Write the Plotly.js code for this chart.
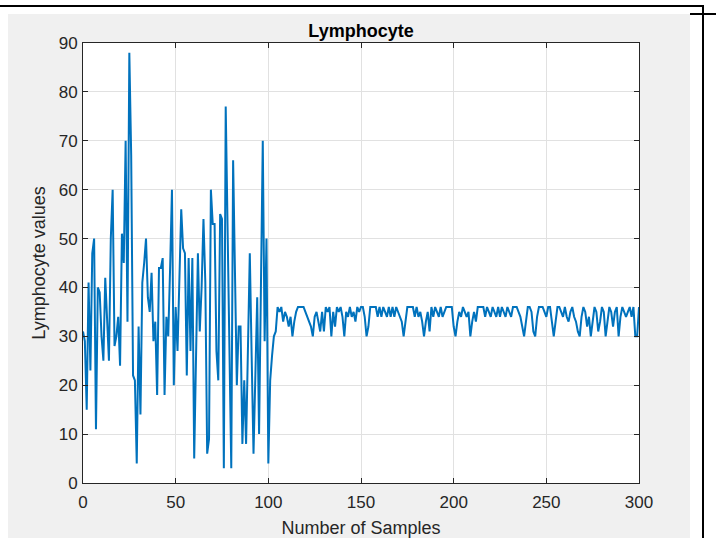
<!DOCTYPE html>
<html>
<head>
<meta charset="utf-8">
<script src="https://cdn.plot.ly/plotly-3.0.1.min.js"></script>
<style>
  html, body { margin: 0; padding: 0; background: #ffffff; width: 716px; height: 538px; overflow: hidden; position: relative; }
  #plot { position: absolute; left: 8px; top: 14px; width: 682px; height: 524px; }
  .ln { position: absolute; background: #000000; }
</style>
</head>
<body>
<div class="ln" style="left:0px; top:5px; width:704px; height:2px;"></div>
<div class="ln" style="left:702px; top:5px; width:2px; height:533px;"></div>
<div class="ln" style="left:690px; top:13px; width:26px; height:2px;"></div>
<div id="plot"></div>
<script>
// Lymphocyte values, samples 0..104 (noisy phase)
const phase1 = [31,29,15,41,23,47,50,11,40,39, 30,25,42,32,25,50,60,28,30,34,
  24,51,45,70,33,88,67,22,21,4, 32,14,41,45,50,38,35,43,29,33,
  18,44,44,46,18,34,30,44,60,20, 36,27,45,56,48,47,22,46,27,46,
  5,25,47,31,40,54,41,6,9,60, 53,53,27,21,55,54,3,77,52,27,
  3,66,42,20,32,32,8,21,8,27, 47,26,6,22,38,10,40,70,29,50,
  4,21,26,30,31];
// samples 105..200
const phase2 = [36,35,36,33,35,34,32,34,30,33, 35,36,36,36,36,35,34,33,32,30,
  34,35,33,31,35,31,36,35,36,30, 35,32,36,35,36,34,30,35,34,36,
  34,35,33,36,35,36,36,34,30,32, 36,36,36,36,34,36,34,36,35,34,
  36,34,36,34,36,35,34,33,30,33, 36,36,36,36,34,36,34,35,33,30,
  33,35,31,36,34,36,35,34,36,34, 35,36,36,36,36,32];
// samples 201..300
const phase3 = [30,33,35,34,36,35,34,35,30,33, 35,33,36,36,36,36,34,36,35,34,
  36,35,34,36,34,36,35,34,36,35, 34,36,36,36,35,34,32,30,33,36,
  36,35,31,30,34,36,36,36,35,34, 36,36,33,30,33,36,36,35,34,36,
  34,33,35,36,34,33,31,30,34,36, 35,32,34,30,33,36,35,31,33,36,
  35,30,33,36,35,32,35,36,30,34, 36,35,34,35,36,34,36,30,30,36];

const values = phase1.concat(phase2, phase3);
const samples = values.map((v, i) => i);

const xTicks = [0, 50, 100, 150, 200, 250, 300];
const yTicks = [0, 10, 20, 30, 40, 50, 60, 70, 80, 90];

const fontFam = 'Liberation Sans, Arial, Helvetica, sans-serif';
const axCol = '#262626';

const trace = {
  x: samples, y: values, type: 'scatter', mode: 'lines',
  line: { color: '#0072BD', width: 2 },
  hoverinfo: 'skip'
};

const layout = {
  width: 682, height: 524,
  margin: { l: 75, r: 51, t: 29, b: 55, pad: 0 },
  paper_bgcolor: '#f0f0f0',
  plot_bgcolor: '#ffffff',
  showlegend: false,
  title: {
    text: '<b>Lymphocyte</b>',
    font: { family: fontFam, size: 18, color: '#000000' },
    x: 0.5, xref: 'paper', xanchor: 'center',
    y: 1 - 17/524, yref: 'container', yanchor: 'middle'
  },
  xaxis: {
    range: [0, 300], tickmode: 'array', tickvals: xTicks, ticktext: xTicks.map(String),
    showgrid: true, gridcolor: '#e1e1e1', gridwidth: 1, zeroline: false,
    showline: true, linecolor: axCol, linewidth: 1, mirror: 'ticks',
    ticks: 'inside', ticklen: 5, tickcolor: axCol, tickwidth: 1,
    ticklabelstandoff: 4,
    tickfont: { family: fontFam, size: 17, color: axCol },
    title: { text: 'Number of Samples', font: { family: fontFam, size: 18, color: axCol }, standoff: 10 },
    automargin: false, fixedrange: true
  },
  yaxis: {
    range: [0, 90], tickmode: 'array', tickvals: yTicks, ticktext: yTicks.map(String),
    showgrid: true, gridcolor: '#e1e1e1', gridwidth: 1, zeroline: false,
    showline: true, linecolor: axCol, linewidth: 1, mirror: 'ticks',
    ticks: 'inside', ticklen: 5, tickcolor: axCol, tickwidth: 1,
    ticklabelstandoff: 1,
    tickfont: { family: fontFam, size: 17, color: axCol },
    title: { text: 'Lymphocyte values', font: { family: fontFam, size: 18, color: axCol }, standoff: 8 },
    automargin: false, fixedrange: true
  }
};

Plotly.newPlot('plot', [trace], layout, { displayModeBar: false, staticPlot: true });
</script>
</body>
</html>
